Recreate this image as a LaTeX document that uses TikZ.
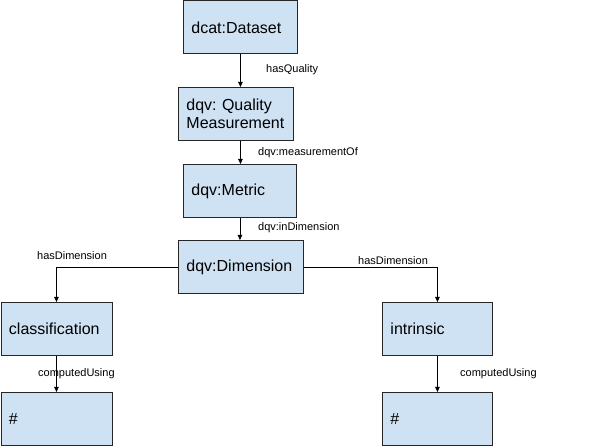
\documentclass[tikz,border=0pt]{standalone}
\usepackage{fontspec}
\setmainfont{Liberation Sans}
\usetikzlibrary{arrows.meta}
\definecolor{boxfill}{HTML}{CFE2F3}
\definecolor{boxline}{HTML}{262626}
\frenchspacing
\tikzset{
  box/.style={draw=boxline, fill=boxfill, line width=0.9pt, rectangle, anchor=north west,
    inner xsep=8pt, inner ysep=0pt, align=left, font=\fontsize{16}{18}\selectfont},
  lbl/.style={anchor=west, inner sep=0pt, font=\fontsize{11}{13}\selectfont},
  conn/.style={draw=black, line width=0.8pt, -{Triangle[length=5pt,width=4.5pt]}}
}
\begin{document}
\begin{tikzpicture}[x=1pt,y=-1pt]
\useasboundingbox (0,0) rectangle (600,446);
\node[box, text width=98pt, minimum height=53pt] (ds) at (183,0.5) {dcat:Dataset};
\node[box, text width=99pt, minimum height=53pt] (qm) at (178,87) {dqv: Quality\\Measurement};
\node[box, text width=97pt, minimum height=53pt] (met) at (183,164) {dqv:Metric};
\node[box, text width=109pt, minimum height=53pt] (dim) at (178,240) {dqv:Dimension};
\node[box, text width=95pt, minimum height=53pt] (cls) at (0.5,302) {classification};
\node[box, text width=94pt, minimum height=53pt] (intr) at (382,302) {intrinsic};
\node[box, text width=95pt, minimum height=53pt] (h1) at (0.5,392) {\#};
\node[box, text width=94pt, minimum height=53pt] (h2) at (382,392) {\#};

\draw[conn] (ds.south) -- (ds.south |- qm.north);
\draw[conn] (qm.south -| ds.south) -- (ds.south |- met.north);
\draw[conn] (met.south) -- (met.south |- dim.north);
\draw[conn] (dim.west) -| (cls.north);
\draw[conn] (dim.east) -| (intr.north);
\draw[conn] (cls.south) -- (h1.north);
\draw[conn] (intr.south) -- (h2.north);

\node[lbl] (l1) at (266,70) {hasQuality};
\node[lbl] (l2) at (258,153) {dqv:measurementOf};
\node[lbl] (l3) at (258,228) {dqv:inDimension};
\node[lbl] (l4) at (37,256) {hasDimension};
\node[lbl] (l5) at (358,261) {hasDimension};
\node[lbl] (l6) at (38,374) {computedUsing};
\node[lbl] (l7) at (460,374) {computedUsing};
\end{tikzpicture}
\end{document}
